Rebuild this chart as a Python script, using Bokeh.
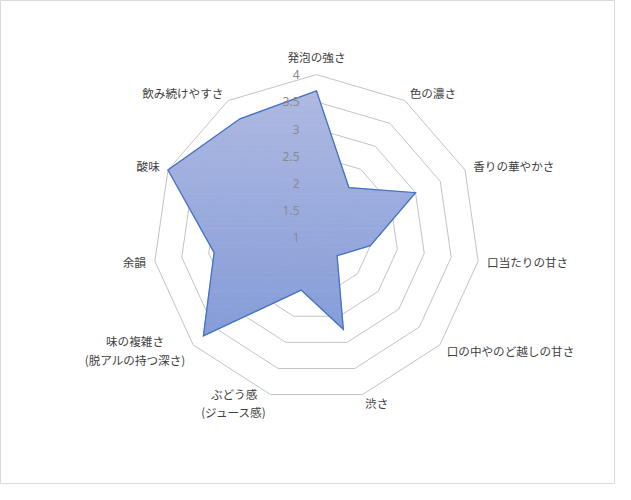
import math
from bokeh.plotting import figure
from bokeh.models import Range1d
from bokeh.core.properties import value
from bokeh.embed import file_html
from bokeh.resources import INLINE

# ---------------- data ----------------
categories = [
    "発泡の強さ", "色の濃さ", "香りの華やかさ", "口当たりの甘さ",
    "口の中やのど越しの甘さ", "渋さ", "ぶどう感\n(ジュース感)",
    "味の複雑さ\n(脱アルの持つ深さ)", "余韻", "酸味", "飲み続けやすさ",
]
scores = [3.7, 2.1, 3.0, 2.0, 1.5, 2.75, 2.0, 3.75, 2.9, 4.0, 3.6]
tick_values = [1, 1.5, 2, 2.5, 3, 3.5, 4]
tick_labels = ["1", "1.5", "2", "2.5", "3", "3.5", "4"]
axis_min, axis_max = 1.0, 4.0

# ---------------- layout ----------------
W, H = 615, 484
CX, CY = 316.0, 237.4          # chart centre in canvas pixels (from top-left)
RPX = 163.3                    # pixel radius of the outer ring
ppu = RPX / (axis_max - axis_min)   # pixels per value unit
px = 1.0 / ppu                 # one pixel in data units

LABEL_FONT = value("Noto Sans CJK JP")
LABEL_SIZE = "11.6px"
LABEL_COLOR = "#404040"
LINE_STEP = 18.5               # px between lines of a two-line label

p = figure(
    width=W, height=H,
    x_range=Range1d(-CX / ppu, (W - CX) / ppu),
    y_range=Range1d(-(H - CY) / ppu, CY / ppu),
    output_backend="svg", toolbar_location=None,
    x_axis_location=None, y_axis_location=None,
    min_border=0,
)
p.outline_line_color = "#d9d9d9"
p.outline_line_width = 1
p.background_fill_color = "white"
p.border_fill_color = "white"
p.xgrid.visible = False
p.ygrid.visible = False

n = len(categories)
angles = [2 * math.pi * k / n for k in range(n)]


def polar(r, a):
    return r * math.sin(a), r * math.cos(a)


# ---------------- grid rings ----------------
ring_xs, ring_ys = [], []
for t in tick_values:
    r = t - axis_min
    if r <= 0:
        continue
    pts = [polar(r, a) for a in angles] + [polar(r, angles[0])]
    ring_xs.append([q[0] for q in pts])
    ring_ys.append([q[1] for q in pts])
p.multi_line(ring_xs, ring_ys, line_color="#c3c3c3", line_width=1)

# ---------------- data polygon (vertical gradient fill) ----------------
poly = [polar(v - axis_min, a) for v, a in zip(scores, angles)]


def clip(points, y0, keep_above):
    out = []
    m = len(points)
    for i in range(m):
        a = points[i]
        b = points[(i + 1) % m]
        ina = a[1] >= y0 if keep_above else a[1] <= y0
        inb = b[1] >= y0 if keep_above else b[1] <= y0
        if ina:
            out.append(a)
        if ina != inb:
            t = (y0 - a[1]) / (b[1] - a[1])
            out.append((a[0] + t * (b[0] - a[0]), y0))
    return out


def lerp_color(c0, c1, t):
    return "#%02x%02x%02x" % tuple(int(round(c0[i] + (c1[i] - c0[i]) * t)) for i in range(3))


top_rgb = (174, 185, 225)
bot_rgb = (133, 156, 216)
ymax = max(q[1] for q in poly)
ymin = min(q[1] for q in poly)
NB = 50
band_xs, band_ys, band_cols = [], [], []
# the radar polygon is star-shaped about the centre: split into convex fan triangles
tris = [[(0.0, 0.0), poly[k], poly[(k + 1) % n]] for k in range(n)]
for b in range(NB):
    yhi = ymax - (ymax - ymin) * b / NB
    ylo = ymax - (ymax - ymin) * (b + 1) / NB
    col = lerp_color(top_rgb, bot_rgb, (b + 0.5) / NB)
    for tri in tris:
        part = clip(clip(tri, ylo, True), yhi, False)
        if len(part) < 3:
            continue
        band_xs.append([q[0] for q in part])
        band_ys.append([q[1] for q in part])
        band_cols.append(col)
p.patches(band_xs, band_ys, fill_color=band_cols, line_color=band_cols, line_width=0.8)

p.patch([q[0] for q in poly] + [poly[0][0]], [q[1] for q in poly] + [poly[0][1]],
        fill_alpha=0, line_color="#4472C4", line_width=1.3, line_join="miter")

# ---------------- value axis labels ----------------
p.text(x=[-17 * px] * len(tick_values), y=[t - axis_min for t in tick_values],
       text=tick_labels, text_align="right", text_baseline="middle",
       text_font=value("Noto Sans"), text_font_size="12px", text_color="#8a8a8a")


# ---------------- category labels ----------------
def est_width(s, fs=11.6):
    return sum(fs if ord(c) > 0x2000 else 0.42 * fs for c in s)


lx, ly, lt, la = [], [], [], []
R = axis_max - axis_min
for cat, a in zip(categories, angles):
    s, c = math.sin(a), math.cos(a)
    vx, vy = R * s, R * c
    lines = cat.split("\n")
    if abs(s) < 0.1:
        ax_, ay_ = vx, vy + (17.5 * px if c > 0 else -17.5 * px)
        align = "center"
    else:
        ax_, ay_ = vx + 9 * s * px, vy + 9 * c * px
        align = "left" if s > 0 else "right"
    if len(lines) == 1:
        lx.append(ax_); ly.append(ay_); lt.append(cat); la.append(align)
    else:
        wmax = max(est_width(l) for l in lines)
        if align == "right":
            xc = ax_ - wmax / 2 * px
        elif align == "left":
            xc = ax_ + wmax / 2 * px
        else:
            xc = ax_
        k = len(lines)
        for i, l in enumerate(lines):
            lx.append(xc)
            ly.append(ay_ - (i - (k - 1) / 2) * LINE_STEP * px)
            lt.append(l)
            la.append("center")

p.text(x=lx, y=ly, text=lt, text_align=la, text_baseline="middle",
       text_font=LABEL_FONT, text_font_size=LABEL_SIZE, text_color=LABEL_COLOR)

open("out.html", "w").write(file_html(p, INLINE))
